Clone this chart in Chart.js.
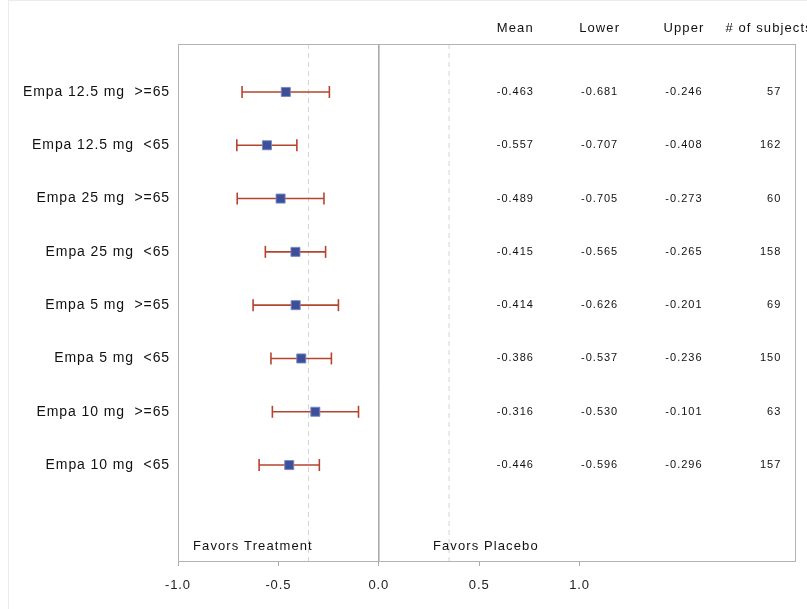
<!DOCTYPE html>
<html>
<head>
<meta charset="utf-8">
<script src="https://cdn.jsdelivr.net/npm/chart.js@4"></script>
<style>
  body { margin: 0; background: #fff; }
</style>
</head>
<body>
<canvas id="forest" width="807" height="609"></canvas>
<script>
// rows, top to bottom
const groups = ["Empa 12.5 mg  >=65", "Empa 12.5 mg  <65", "Empa 25 mg  >=65", "Empa 25 mg  <65",
                "Empa 5 mg  >=65", "Empa 5 mg  <65", "Empa 10 mg  >=65", "Empa 10 mg  <65"];
const means = [-0.463, -0.557, -0.489, -0.415, -0.414, -0.386, -0.316, -0.446];
const lowers = [-0.681, -0.707, -0.705, -0.565, -0.626, -0.537, -0.530, -0.596];
const uppers = [-0.246, -0.408, -0.273, -0.265, -0.201, -0.236, -0.101, -0.296];
const subjects = [57, 162, 60, 158, 69, 150, 63, 157];
const xTicks = [-1.0, -0.5, 0.0, 0.5, 1.0];
const refLines = [-0.35, 0.35];
const headers = ["Mean", "Lower", "Upper", "# of subjects"];

const rows = groups.map((g, i) => i + 1);
const yMin = 0.1, yMax = 9.8;
const font = "'Liberation Sans', Arial, sans-serif";

// error bars: one small line dataset per row, caps from rotated line points
const barSets = rows.map((r, i) => ({
  type: 'scatter',
  data: [{x: lowers[i], y: r}, {x: uppers[i], y: r}],
  showLine: true,
  borderColor: '#b5442f',
  borderWidth: 1.6,
  pointStyle: 'line',
  pointRotation: 90,
  pointRadius: 6,
  pointBorderWidth: 1.6,
  pointBorderColor: '#b5442f',
  order: 1
}));

const refSets = [0].concat(refLines).map(v => ({
  type: 'scatter',
  data: [{x: v, y: yMin}, {x: v, y: yMax}],
  showLine: true,
  borderColor: v === 0 ? '#a9a9a9' : '#d4d4d4',
  borderWidth: 1,
  borderDash: v === 0 ? [] : [5, 4],
  pointRadius: 0,
  order: 2
}));

const meanSet = {
  type: 'scatter',
  data: rows.map((r, i) => ({x: means[i], y: r})),
  pointStyle: 'rect',
  pointRadius: 6.4,
  backgroundColor: '#3d4f98',
  borderColor: 'rgba(120,135,195,0.9)',
  pointBorderWidth: 1,
  order: 0
};

const tablePlugin = {
  id: 'table',
  beforeDraw(chart) {
    const ctx = chart.ctx;
    ctx.save();
    ctx.strokeStyle = '#ececec';
    ctx.lineWidth = 1;
    ctx.strokeRect(8.5, 0.5, 820, 700);
    ctx.restore();
    // the reference type is set a little loose
    ctx.letterSpacing = '0.9px';
  },
  afterDatasetsDraw(chart) {
    const ctx = chart.ctx, xs = chart.scales.x, ys = chart.scales.y, a = chart.chartArea;
    ctx.save();
    ctx.strokeStyle = '#b0b4b8';
    ctx.lineWidth = 1;
    ctx.strokeRect(a.left + 0.5, a.top + 0.5, a.right - a.left - 1, a.bottom - a.top);

    ctx.fillStyle = '#111';
    ctx.textBaseline = 'middle';
    // column headers
    const colX = [0.68, 1.10, 1.52, 1.944];
    ctx.font = '13px ' + font;
    ctx.letterSpacing = '1.1px';
    ctx.textAlign = 'center';
    headers.forEach((h, j) => ctx.fillText(h, xs.getPixelForValue(colX[j]), ys.getPixelForValue(-0.2)));
    // values
    ctx.font = '11px ' + font;
    ctx.letterSpacing = '1px';
    rows.forEach((r, i) => {
      const y = ys.getPixelForValue(r);
      ctx.textAlign = 'center';
      ctx.fillText(means[i].toFixed(3), xs.getPixelForValue(colX[0]), y);
      ctx.fillText(lowers[i].toFixed(3), xs.getPixelForValue(colX[1]), y);
      ctx.fillText(uppers[i].toFixed(3), xs.getPixelForValue(colX[2]), y);
      ctx.textAlign = 'right';
      ctx.fillText(String(subjects[i]), xs.getPixelForValue(2.005), y);
    });
    // favors labels
    ctx.font = '13px ' + font;
    ctx.letterSpacing = '1.1px';
    ctx.textAlign = 'left';
    ctx.fillText('Favors Treatment', xs.getPixelForValue(-0.925), ys.getPixelForValue(9.53));
    ctx.fillText('Favors Placebo', xs.getPixelForValue(0.27), ys.getPixelForValue(9.53));
    ctx.restore();
  }
};

new Chart(document.getElementById('forest'), {
  type: 'scatter',
  data: { datasets: [meanSet].concat(barSets, refSets) },
  options: {
    responsive: false,
    animation: false,
    layout: { padding: { left: 0, top: 44, right: 11, bottom: 0 } },
    plugins: { legend: { display: false }, tooltip: { enabled: false } },
    scales: {
      x: {
        type: 'linear',
        min: -1.0,
        max: 2.078,
        afterBuildTicks: s => { s.ticks = xTicks.map(v => ({value: v})); },
        afterFit: s => { s.height = 48; },
        border: { display: false },
        grid: { drawOnChartArea: false, drawTicks: true, tickLength: 5, color: '#a9a9a9' },
        ticks: {
          color: '#222',
          padding: 12,
          font: { family: font, size: 13 },
          callback: v => Number(v).toFixed(1)
        }
      },
      y: {
        type: 'linear',
        reverse: true,
        min: yMin,
        max: yMax,
        afterBuildTicks: s => { s.ticks = rows.map(v => ({value: v})); },
        afterFit: s => { s.width = 178; },
        border: { display: false },
        grid: { display: false, drawTicks: false },
        ticks: {
          color: '#111',
          padding: 8,
          font: { family: font, size: 14 },
          callback: v => groups[v - 1]
        }
      }
    }
  },
  plugins: [tablePlugin]
});
</script>
</body>
</html>
